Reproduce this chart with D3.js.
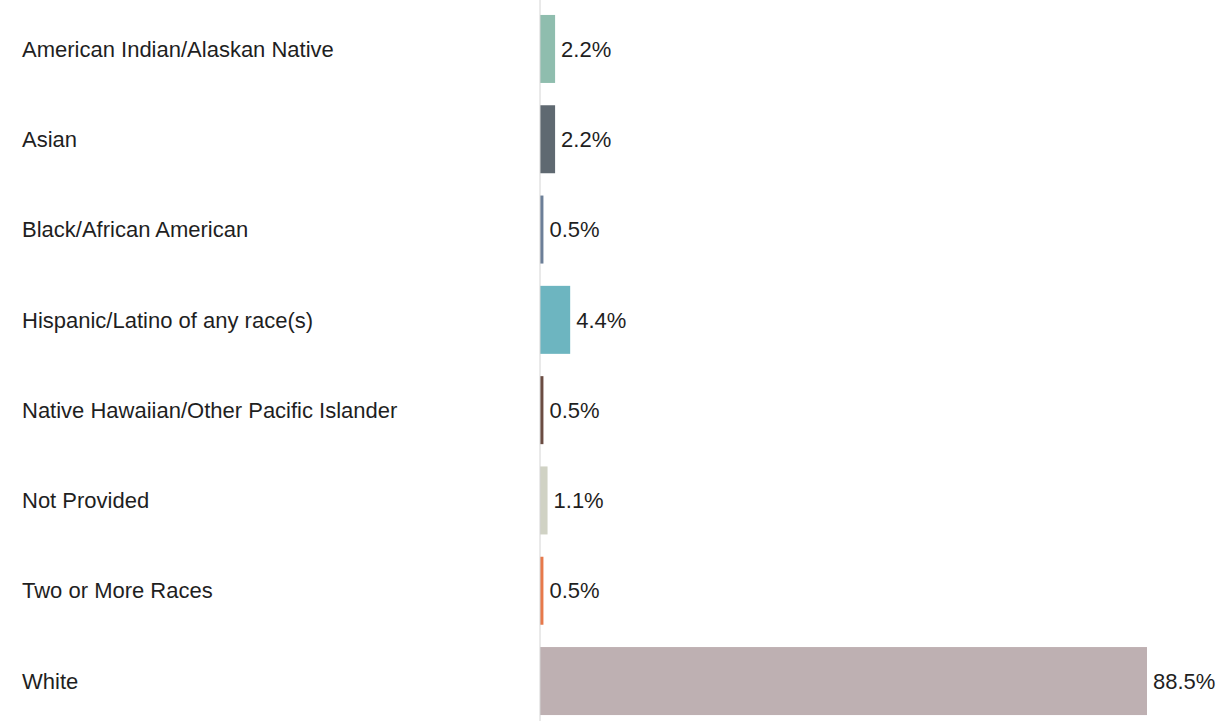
<!DOCTYPE html>
<html>
<head>
<meta charset="utf-8">
<script src="https://cdn.jsdelivr.net/npm/d3@7"></script>
<style>
  html, body { margin: 0; padding: 0; background: #ffffff; }
  svg { display: block; }
  text { font-family: "Liberation Sans", Arial, Helvetica, sans-serif; }
</style>
</head>
<body>
<svg id="chart" width="1220" height="721"></svg>
<script>
// Race / ethnicity breakdown
const categories = [
  "American Indian/Alaskan Native",
  "Asian",
  "Black/African American",
  "Hispanic/Latino of any race(s)",
  "Native Hawaiian/Other Pacific Islander",
  "Not Provided",
  "Two or More Races",
  "White"
];
const percents = [2.2, 2.2, 0.5, 4.4, 0.5, 1.1, 0.5, 88.5];
const barColors = [
  "#8fbdae", "#5f6971", "#6c7f98", "#6db5c0",
  "#6b4c42", "#d0d2c4", "#e7794b", "#beb0b2"
];

const rows = categories.map((c, i) => ({ name: c, value: percents[i], color: barColors[i] }));

const W = 1220, H = 721;
const svg = d3.select("#chart");

const x = d3.scaleLinear().domain([0, 88.5]).range([540, 1147]);
const y = d3.scaleBand()
  .domain(categories)
  .range([3.8, 726.2])
  .paddingInner(0.247)
  .paddingOuter(0.1235);

// Category labels
svg.append("g").selectAll("text")
  .data(rows)
  .join("text")
  .attr("x", 22)
  .attr("y", d => y(d.name) + y.bandwidth() / 2)
  .attr("dy", "0.35em")
  .attr("font-size", 22)
  .attr("fill", "#1f1f1f")
  .text(d => d.name);

// Bars
svg.append("g").selectAll("rect")
  .data(rows)
  .join("rect")
  .attr("x", x(0))
  .attr("y", d => y(d.name))
  .attr("width", d => x(d.value) - x(0))
  .attr("height", y.bandwidth())
  .attr("fill", d => d.color);

// Baseline
svg.append("line")
  .attr("x1", x(0)).attr("x2", x(0))
  .attr("y1", 0).attr("y2", H)
  .attr("stroke", "#d4d4d4")
  .attr("stroke-width", 1);

// Value labels
svg.append("g").selectAll("text")
  .data(rows)
  .join("text")
  .attr("x", d => x(d.value) + 6)
  .attr("y", d => y(d.name) + y.bandwidth() / 2)
  .attr("dy", "0.35em")
  .attr("font-size", 22)
  .attr("fill", "#1f1f1f")
  .text(d => d3.format(".1f")(d.value) + "%");
</script>
</body>
</html>
